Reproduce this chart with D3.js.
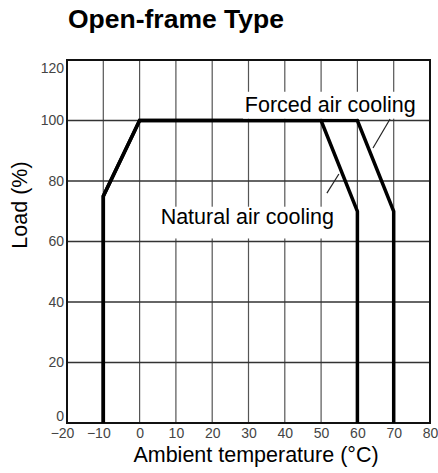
<!DOCTYPE html>
<html>
<head>
<script src="https://d3js.org/d3.v7.min.js"></script>
<style>
	body{ margin:0; padding:0; background:#fff; font-family:'Liberation Sans', Arial, sans-serif; }
	.tick text{ font-size:14px; fill:#444; }
</style>
</head>
<body>
<div id="chart"></div>
<script>
	// derating curves
	var naturalTemp = [-10, -10, 0, 50, 60, 60];
	var naturalLoad = [0, 75, 100, 100, 70, 0];
	var forcedTemp = [-10, -10, 0, 60, 70, 70];
	var forcedLoad = [0, 75, 100, 100, 70, 0];

	var xTicks = [-20, -10, 0, 10, 20, 30, 40, 50, 60, 70, 80];
	var yTicks = [0, 20, 40, 60, 80, 100, 120];

	var W = 438, H = 473;
	var margin = {top: 60, right: 8, bottom: 50, left: 67};
	var width = W - margin.left - margin.right;
	var height = H - margin.top - margin.bottom;

	var svg = d3.select('#chart').append('svg')
		.attr('width', W)
		.attr('height', H);

	var g = svg.append('g')
		.attr('transform', 'translate(' + margin.left + ',' + margin.top + ')');

	var x = d3.scaleLinear().domain([-20, 80]).range([0, width]);
	var y = d3.scaleLinear().domain([0, 120]).range([height, 0]);

	// grid
	g.selectAll('.vgrid').data(xTicks.slice(1, -1)).enter()
		.append('line')
		.attr('x1', function(d){ return x(d); })
		.attr('x2', function(d){ return x(d); })
		.attr('y1', 0).attr('y2', height)
		.attr('stroke', '#555').attr('stroke-width', 1.2);

	g.selectAll('.hgrid').data(yTicks.slice(1, -1)).enter()
		.append('line')
		.attr('x1', 0).attr('x2', width)
		.attr('y1', function(d){ return y(d); })
		.attr('y2', function(d){ return y(d); })
		.attr('stroke', '#333').attr('stroke-width', 1.5);

	// axes (labels only)
	var xAxis = d3.axisBottom(x).tickValues(xTicks).tickSize(0).tickPadding(5)
		.tickFormat(function(d){ return d < 0 ? '\u2212' + Math.abs(d) : d; });
	var yAxis = d3.axisLeft(y).tickValues(yTicks).tickSize(0).tickPadding(3);

	var gx = g.append('g').attr('transform', 'translate(0,' + height + ')').call(xAxis);
	gx.select('.domain').remove();
	gx.selectAll('.tick text')
		.attr('dx', function(d){ return d < 0 ? -5 : 0; });

	var gy = g.append('g').call(yAxis);
	gy.select('.domain').remove();
	gy.selectAll('.tick text')
		.attr('dy', function(d){ return d === 120 ? '0.9em' : d === 0 ? '-0.15em' : '0.32em'; });

	g.selectAll('.tick text').attr('font-family', "'Liberation Sans', Arial, sans-serif");

	// frame
	g.append('rect')
		.attr('x', 0).attr('y', 0)
		.attr('width', width).attr('height', height)
		.attr('fill', 'none').attr('stroke', '#111').attr('stroke-width', 2);

	var line = d3.line()
		.x(function(d){ return x(d[0]); })
		.y(function(d){ return y(d[1]); });

	function pts(t, l){ return t.map(function(v, i){ return [v, l[i]]; }); }

	[pts(forcedTemp, forcedLoad), pts(naturalTemp, naturalLoad)].forEach(function(p){
		g.append('path')
			.attr('d', line(p))
			.attr('fill', 'none')
			.attr('stroke', '#000')
			.attr('stroke-width', 3.5)
			.attr('stroke-linejoin', 'miter');
	});

	// labels with white backing that breaks the grid
	g.append('rect').attr('x', x(28.5)).attr('y', y(109.5)).attr('width', x(75.5) - x(28.5)).attr('height', y(100.6) - y(109.5)).attr('fill', '#fff');
	g.append('text').attr('x', x(29)).attr('y', y(102.8))
		.attr('font-size', 21.5).text('Forced air cooling');
	g.append('rect').attr('x', x(5.5)).attr('y', y(71.5)).attr('width', x(54) - x(5.5)).attr('height', y(61) - y(71.5)).attr('fill', '#fff');
	g.append('text').attr('x', x(5.8)).attr('y', y(65.7))
		.attr('font-size', 21.5).text('Natural air cooling');

	// leader lines
	g.append('line').attr('x1', x(69)).attr('y1', y(100.5)).attr('x2', x(64.3)).attr('y2', y(90.9))
		.attr('stroke', '#222').attr('stroke-width', 1.2);
	g.append('line').attr('x1', x(51.6)).attr('y1', y(76)).attr('x2', x(54.9)).attr('y2', y(82.3))
		.attr('stroke', '#222').attr('stroke-width', 1.2);

	// titles
	svg.append('text').attr('x', 68).attr('y', 28)
		.attr('font-size', 26.5).attr('font-weight', 'bold').text('Open-frame Type');
	svg.append('text').attr('x', 256).attr('y', 462)
		.attr('text-anchor', 'middle').attr('font-size', 21.5).text('Ambient temperature (\u00b0C)');
	svg.append('text')
		.attr('transform', 'translate(27,205) rotate(-90)')
		.attr('text-anchor', 'middle').attr('font-size', 21.5).text('Load (%)');
</script>
</body>
</html>
